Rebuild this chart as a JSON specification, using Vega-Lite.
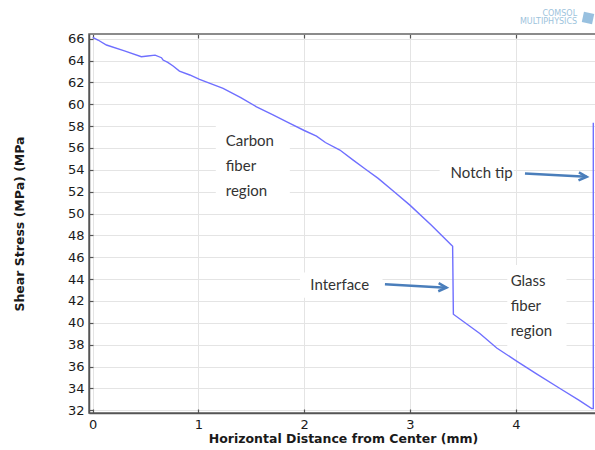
{
  "$schema": "https://vega.github.io/schema/vega-lite/v6.json",
  "width": 508,
  "height": 379,
  "autosize": "none",
  "padding": {"left": 89, "top": 34, "right": 0, "bottom": 37},
  "background": "white",
  "view": {"stroke": "#666666", "strokeWidth": 1.5},
  "config": {
    "font": "DejaVu Sans",
    "axis": {
      "labelFont": "DejaVu Sans",
      "labelFontSize": 13,
      "labelColor": "#1a1a1a",
      "titleFont": "DejaVu Sans",
      "titleFontSize": 12.5,
      "titleFontWeight": "bold",
      "titleColor": "#1a1a1a",
      "gridColor": "#e4e4e4",
      "gridWidth": 1,
      "domainColor": "#555555",
      "domainWidth": 1.5,
      "tickColor": "#555555",
      "tickWidth": 1.2
    }
  },
  "datasets": {
    "stress": [
      {"seq": 1, "x": 0.0, "tau": 66.13},
      {"seq": 2, "x": 0.05, "tau": 65.88},
      {"seq": 3, "x": 0.13, "tau": 65.42},
      {"seq": 4, "x": 0.3, "tau": 64.88},
      {"seq": 5, "x": 0.46, "tau": 64.35},
      {"seq": 6, "x": 0.52, "tau": 64.42},
      {"seq": 7, "x": 0.59, "tau": 64.5},
      {"seq": 8, "x": 0.65, "tau": 64.26},
      {"seq": 9, "x": 0.665, "tau": 64.05},
      {"seq": 10, "x": 0.71, "tau": 63.84},
      {"seq": 11, "x": 0.76, "tau": 63.5},
      {"seq": 12, "x": 0.82, "tau": 63.04},
      {"seq": 13, "x": 0.918, "tau": 62.68},
      {"seq": 14, "x": 1.01, "tau": 62.28},
      {"seq": 15, "x": 1.233, "tau": 61.46},
      {"seq": 16, "x": 1.4, "tau": 60.6},
      {"seq": 17, "x": 1.549, "tau": 59.77},
      {"seq": 18, "x": 1.7, "tau": 59.05},
      {"seq": 19, "x": 1.864, "tau": 58.25},
      {"seq": 20, "x": 2.0, "tau": 57.6},
      {"seq": 21, "x": 2.116, "tau": 57.09},
      {"seq": 22, "x": 2.2, "tau": 56.5},
      {"seq": 23, "x": 2.337, "tau": 55.81},
      {"seq": 24, "x": 2.463, "tau": 54.89},
      {"seq": 25, "x": 2.58, "tau": 54.05},
      {"seq": 26, "x": 2.699, "tau": 53.22},
      {"seq": 27, "x": 2.85, "tau": 52.0},
      {"seq": 28, "x": 2.999, "tau": 50.77},
      {"seq": 29, "x": 3.2, "tau": 48.95},
      {"seq": 30, "x": 3.393, "tau": 47.11},
      {"seq": 31, "x": 3.403, "tau": 47.0},
      {"seq": 32, "x": 3.41, "tau": 40.79},
      {"seq": 33, "x": 3.66, "tau": 39.02},
      {"seq": 34, "x": 3.82, "tau": 37.7},
      {"seq": 35, "x": 4.008, "tau": 36.5},
      {"seq": 36, "x": 4.2, "tau": 35.3},
      {"seq": 37, "x": 4.418, "tau": 33.99},
      {"seq": 38, "x": 4.6, "tau": 32.9},
      {"seq": 39, "x": 4.718, "tau": 32.15},
      {"seq": 40, "x": 4.733, "tau": 32.15},
      {"seq": 41, "x": 4.733, "tau": 58.3}
    ],
    "boxes": [
      {"x1": 1.164, "x2": 1.864, "y1": 58.7, "y2": 50.75},
      {"x1": 1.96, "x2": 2.74, "y1": 44.6, "y2": 42.3},
      {"x1": 3.28, "x2": 3.98, "y1": 55.0, "y2": 52.4},
      {"x1": 3.92, "x2": 4.48, "y1": 45.3, "y2": 37.5}
    ],
    "labels": [
      {"x": 1.258, "y": 56.66, "text": "Carbon"},
      {"x": 1.258, "y": 54.37, "text": "fiber"},
      {"x": 1.258, "y": 52.08, "text": "region"},
      {"x": 2.058, "y": 43.48, "text": "Interface"},
      {"x": 3.384, "y": 53.73, "text": "Notch tip"},
      {"x": 3.952, "y": 43.84, "text": "Glass"},
      {"x": 3.952, "y": 41.55, "text": "fiber"},
      {"x": 3.952, "y": 39.26, "text": "region"}
    ],
    "arrows": [
      {"x1": 2.763, "y1": 43.52, "x2": 3.345, "y2": 43.22},
      {"x1": 4.087, "y1": 53.67, "x2": 4.671, "y2": 53.36}
    ],
    "logo": [
      {"x": 4.58, "y": 68.26, "text": "COMSOL"},
      {"x": 4.58, "y": 67.53, "text": "MULTIPHYSICS"}
    ],
    "logoMark": [
      {"x": 4.683, "y": 67.9}
    ]
  },
  "layer": [
    {
      "data": {"name": "stress"},
      "mark": {"type": "line", "color": "#6f6fff", "strokeWidth": 1.4, "opacity": 0},
      "encoding": {
        "x": {
          "field": "x",
          "type": "quantitative",
          "scale": {"domain": [-0.035, 4.768], "nice": false, "zero": false},
          "axis": {
            "title": "Horizontal Distance from Center (mm)",
            "values": [0, 1, 2, 3, 4],
            "format": "d",
            "grid": true,
            "tickSize": -4,
            "labelPadding": 9,
            "titlePadding": 1
          }
        },
        "y": {
          "field": "tau",
          "type": "quantitative",
          "scale": {"domain": [31.75, 66.43], "nice": false, "zero": false},
          "axis": {
            "title": "Shear Stress (MPa) (MPa",
            "values": [32, 34, 36, 38, 40, 42, 44, 46, 48, 50, 52, 54, 56, 58, 60, 62, 64, 66],
            "grid": true,
            "tickSize": -4,
            "labelPadding": 9,
            "titlePadding": 41
          }
        },
        "order": {"field": "seq", "type": "quantitative"}
      }
    },
    {
      "data": {"name": "boxes"},
      "mark": {"type": "rect", "color": "white"},
      "encoding": {
        "x": {"field": "x1", "type": "quantitative", "axis": null},
        "x2": {"field": "x2"},
        "y": {"field": "y1", "type": "quantitative", "axis": null},
        "y2": {"field": "y2"}
      }
    },
    {
      "data": {"name": "stress"},
      "mark": {"type": "line", "color": "#6f6fff", "strokeWidth": 1.4},
      "encoding": {
        "x": {"field": "x", "type": "quantitative", "axis": null},
        "y": {"field": "tau", "type": "quantitative", "axis": null},
        "order": {"field": "seq", "type": "quantitative"}
      }
    },
    {
      "data": {"name": "labels"},
      "mark": {"type": "text", "font": "Lato", "fontSize": 15, "color": "#333333", "align": "left", "baseline": "middle"},
      "encoding": {
        "x": {"field": "x", "type": "quantitative", "axis": {"orient": "top", "labels": false, "grid": false, "domain": false, "title": null, "values": [0, 1, 2, 3, 4], "tickSize": -4}},
        "y": {"field": "y", "type": "quantitative", "axis": null},
        "text": {"field": "text"}
      }
    },
    {
      "data": {"name": "arrows"},
      "mark": {"type": "rule", "color": "#4a7ebb", "strokeWidth": 2.5},
      "encoding": {
        "x": {"field": "x1", "type": "quantitative", "axis": null},
        "y": {"field": "y1", "type": "quantitative", "axis": null},
        "x2": {"field": "x2"},
        "y2": {"field": "y2"}
      }
    },
    {
      "data": {"name": "arrows"},
      "mark": {"type": "point", "shape": "M -1.2,-0.6 L 0,0 L -1.2,0.6", "filled": false, "color": "#4a7ebb", "strokeWidth": 2.5, "size": 180, "angle": 3, "opacity": 1},
      "encoding": {
        "x": {"field": "x2", "type": "quantitative", "axis": null},
        "y": {"field": "y2", "type": "quantitative", "axis": null}
      }
    },
    {
      "data": {"name": "logo"},
      "mark": {"type": "text", "font": "DejaVu Sans", "fontSize": 8, "color": "#9dc3dc", "align": "right", "baseline": "middle"},
      "encoding": {
        "x": {"field": "x", "type": "quantitative", "axis": null},
        "y": {"field": "y", "type": "quantitative", "axis": null},
        "text": {"field": "text"}
      }
    },
    {
      "data": {"name": "logoMark"},
      "mark": {"type": "point", "shape": "square", "filled": true, "color": "#8db9dc", "size": 110, "angle": 12, "opacity": 0.9},
      "encoding": {
        "x": {"field": "x", "type": "quantitative", "axis": null},
        "y": {"field": "y", "type": "quantitative", "axis": null}
      }
    }
  ],
  "resolve": {"axis": {"x": "independent", "y": "independent"}}
}
